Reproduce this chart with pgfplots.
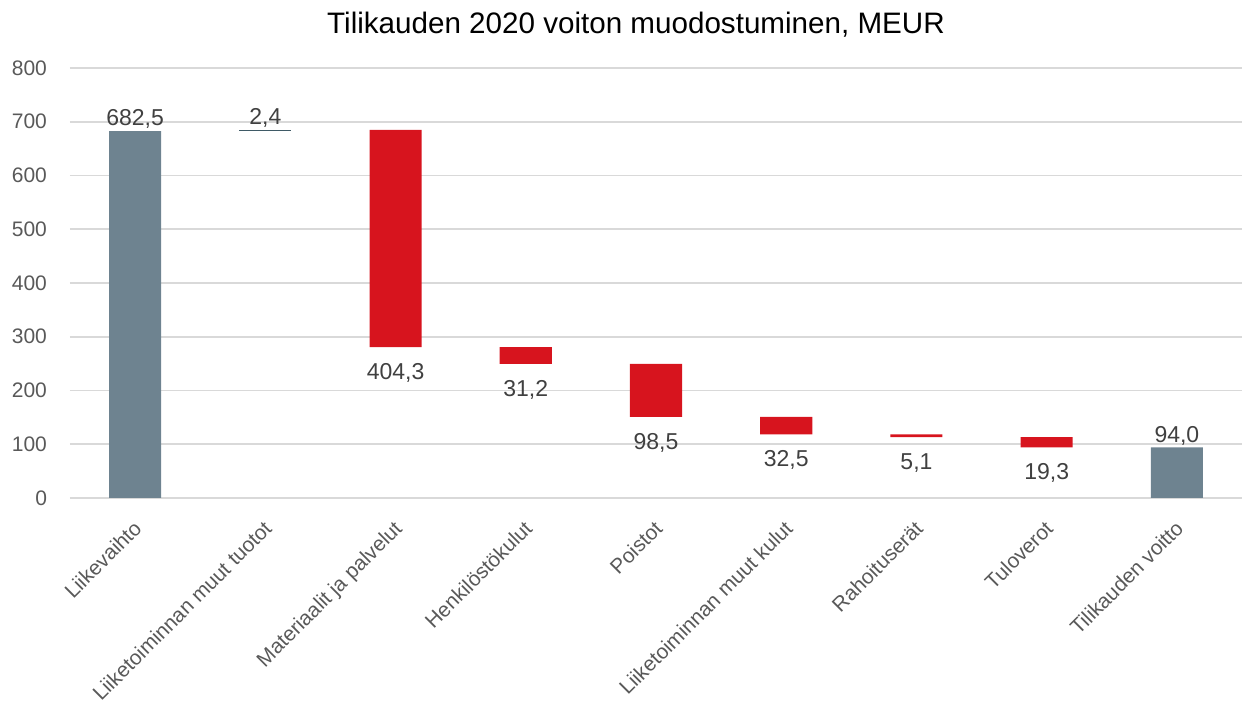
\documentclass[border=0pt]{standalone}
\usepackage{pgfplots}
\pgfplotsset{compat=1.18}
\usepackage{fontspec}
\setmainfont{Liberation Sans}
\definecolor{bargray}{HTML}{6E8390}
\definecolor{barred}{HTML}{D7141E}
\definecolor{bardark}{HTML}{3F5A66}
\definecolor{txt}{HTML}{404040}
\definecolor{tickc}{HTML}{595959}
\begin{document}
\begin{tikzpicture}
\pgfplotsset{common/.style={
 width=586pt, height=215pt, scale only axis,
 xmin=-0.5, xmax=8.5, ymin=0, ymax=800}}
\begin{axis}[
 common,
 ybar stacked, bar width=0.4,
 ytick={0,100,...,800},
 xtick={0,...,8},
 xticklabels={Liikevaihto, Liiketoiminnan muut tuotot, Materiaalit ja palvelut, Henkilöstökulut, Poistot, Liiketoiminnan muut kulut, Rahoituserät, Tuloverot, Tilikauden voitto},
 x tick label style={xshift=-1.5pt, yshift=-9pt, rotate=45, anchor=north east, font=\fontsize{10.4}{12}\selectfont, text=tickc, inner sep=1pt},
 y tick label style={xshift=-8pt, font=\fontsize{10.5}{12}\selectfont, text=tickc},
 /pgf/number format/assume math mode=true,
 ymajorgrids, grid style={draw=black!15, line width=0.8pt},
 axis line style={draw=none},
 major tick length=0pt,
 title={Tilikauden 2020 voiton muodostuminen, MEUR},
 title style={font=\fontsize{14.8}{17}\selectfont, text=black, yshift=6pt, xshift=-10pt},
]
\addplot[draw=none, fill=none] table[x=x, y=y] {
x y
0 0
1 682.5
2 280.6
3 249.4
4 150.9
5 118.4
6 113.3
7 94.0
8 0
};
\addplot[draw=none, fill=bargray] table[x=x, y=y] {
x y
0 682.5
1 0
2 0
3 0
4 0
5 0
6 0
7 0
8 94.0
};
\addplot[draw=none, fill=bardark] table[x=x, y=y] {
x y
0 0
1 2.4
2 0
3 0
4 0
5 0
6 0
7 0
8 0
};
\addplot[draw=none, fill=barred] table[x=x, y=y] {
x y
0 0
1 0
2 404.3
3 31.2
4 98.5
5 32.5
6 5.1
7 19.3
8 0
};
\end{axis}
\begin{axis}[
 common, hide axis, clip=false,
 point meta=explicit symbolic,
 nodes near coords,
 every node near coord/.append style={font=\fontsize{11.5}{13}\selectfont, text=txt, inner sep=1pt},
]
\addplot[draw=none, mark=none, every node near coord/.append style={anchor=south}] table[x=x, y=y, meta=l] {
x y l
0 682.5 682,5
1 684.9 2,4
8 94.0 94,0
};
\addplot[draw=none, mark=none, every node near coord/.append style={anchor=north, yshift=-7pt}] table[x=x, y=y, meta=l] {
x y l
2 280.6 404,3
3 249.4 31,2
4 150.9 98,5
5 118.4 32,5
6 113.3 5,1
7 94.0 19,3
};
\end{axis}
\path (current axis.south west) ++(-35pt,-103pt);
\path (current axis.north east) ++(2pt,34pt);
\end{tikzpicture}
\end{document}
